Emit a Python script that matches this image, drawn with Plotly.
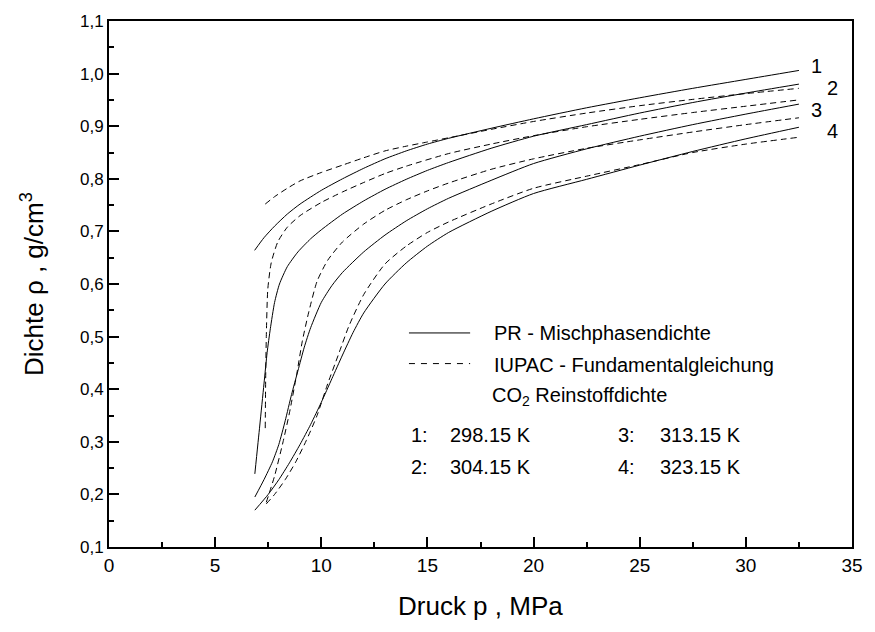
import plotly.graph_objects as go

# ---------------- data ----------------
# PR - Mischphasendichte (solid lines)
pr1_p = [6.86, 7.3, 7.8, 8.4, 9.0, 10.0, 11.0, 12.0, 13.0, 14.0, 15.0, 16.0, 18.0, 20.0, 22.5, 25.0, 27.5, 30.0, 32.5]
pr1_r = [0.664, 0.688, 0.710, 0.733, 0.752, 0.778, 0.800, 0.820, 0.838, 0.853, 0.866, 0.877, 0.896, 0.914, 0.935, 0.954, 0.972, 0.989, 1.006]

pr2_p = [6.87, 7.1, 7.3, 7.45, 7.6, 7.8, 8.03, 8.4, 8.9, 9.5, 10.0, 11.0, 12.0, 13.0, 14.0, 15.0, 16.0, 18.0, 20.0, 22.5, 25.0, 27.5, 30.0, 32.5]
pr2_r = [0.239, 0.330, 0.410, 0.470, 0.515, 0.565, 0.600, 0.633, 0.661, 0.686, 0.703, 0.733, 0.758, 0.780, 0.799, 0.816, 0.831, 0.858, 0.881, 0.903, 0.925, 0.945, 0.963, 0.980]

pr3_p = [6.87, 7.3, 7.7, 8.0, 8.3, 8.6, 8.9, 9.2, 9.5, 10.0, 10.5, 11.0, 12.0, 13.0, 14.0, 15.0, 16.0, 18.0, 20.0, 22.5, 25.0, 27.5, 30.0, 32.5]
pr3_r = [0.195, 0.228, 0.262, 0.295, 0.340, 0.390, 0.435, 0.480, 0.517, 0.565, 0.597, 0.622, 0.661, 0.693, 0.720, 0.743, 0.763, 0.797, 0.829, 0.857, 0.881, 0.903, 0.923, 0.942]

pr4_p = [6.87, 7.5, 8.0, 8.5, 9.0, 9.5, 10.0, 10.5, 11.0, 11.5, 12.0, 13.0, 14.0, 15.0, 16.0, 18.0, 20.0, 22.5, 25.0, 27.5, 30.0, 32.5]
pr4_r = [0.170, 0.200, 0.228, 0.260, 0.295, 0.333, 0.375, 0.420, 0.465, 0.508, 0.545, 0.600, 0.640, 0.672, 0.698, 0.738, 0.772, 0.799, 0.826, 0.852, 0.876, 0.898]

# IUPAC - Fundamentalgleichung (dashed lines)
iu1_p = [7.36, 7.8, 8.4, 9.0, 10.0, 11.0, 12.0, 13.0, 14.0, 15.0, 16.0, 18.0, 20.0, 22.5, 25.0, 27.5, 30.0, 32.5]
iu1_r = [0.752, 0.766, 0.782, 0.796, 0.812, 0.826, 0.840, 0.853, 0.862, 0.870, 0.878, 0.894, 0.909, 0.925, 0.939, 0.951, 0.962, 0.972]

iu2_p = [7.36, 7.38, 7.41, 7.48, 7.64, 7.95, 8.4, 9.0, 10.0, 11.0, 12.0, 13.0, 14.0, 16.0, 18.0, 20.0, 22.5, 25.0, 27.5, 30.0, 32.5]
iu2_r = [0.326, 0.420, 0.500, 0.590, 0.640, 0.680, 0.708, 0.730, 0.755, 0.775, 0.793, 0.810, 0.824, 0.848, 0.866, 0.882, 0.899, 0.913, 0.926, 0.938, 0.950]

iu3_p = [7.41, 7.8, 8.2, 8.5, 8.85, 9.1, 9.4, 9.8, 10.3, 11.0, 12.0, 13.0, 14.0, 15.0, 16.0, 18.0, 20.0, 22.5, 25.0, 27.5, 30.0, 32.5]
iu3_r = [0.185, 0.235, 0.300, 0.355, 0.430, 0.490, 0.545, 0.605, 0.645, 0.680, 0.714, 0.740, 0.760, 0.777, 0.792, 0.818, 0.838, 0.858, 0.874, 0.889, 0.903, 0.916]

iu4_p = [7.41, 7.8, 8.3, 8.8, 9.3, 9.8, 10.3, 10.8, 11.3, 12.0, 13.0, 14.0, 15.0, 16.0, 18.0, 20.0, 22.5, 25.0, 27.5, 30.0, 32.5]
iu4_r = [0.182, 0.200, 0.228, 0.262, 0.303, 0.350, 0.410, 0.465, 0.520, 0.580, 0.638, 0.672, 0.698, 0.718, 0.752, 0.782, 0.805, 0.827, 0.850, 0.866, 0.879]

curve_labels = ["1", "2", "3", "4"]
curve_label_x = [33.33, 34.07, 33.33, 34.07]
curve_label_y = [1.015, 0.972, 0.930, 0.890]
temp_numbers = ["1:", "2:", "3:", "4:"]
temperatures = ["298.15 K", "304.15 K", "313.15 K", "323.15 K"]

x_ticks = [0, 5, 10, 15, 20, 25, 30, 35]
y_ticks = [0.1, 0.2, 0.3, 0.4, 0.5, 0.6, 0.7, 0.8, 0.9, 1.0, 1.1]
y_ticktext = ["0,1", "0,2", "0,3", "0,4", "0,5", "0,6", "0,7", "0,8", "0,9", "1,0", "1,1"]

FONT = "Liberation Sans, Arial, sans-serif"

fig = go.Figure()

solid = [(pr1_p, pr1_r), (pr2_p, pr2_r), (pr3_p, pr3_r), (pr4_p, pr4_r)]
dashed = [(iu1_p, iu1_r), (iu2_p, iu2_r), (iu3_p, iu3_r), (iu4_p, iu4_r)]

for p, r in solid:
    fig.add_trace(go.Scatter(x=p, y=r, mode="lines",
                             line=dict(color="black", width=1, shape="spline", smoothing=0.6),
                             showlegend=False, hoverinfo="skip"))
for p, r in dashed:
    fig.add_trace(go.Scatter(x=p, y=r, mode="lines",
                             line=dict(color="black", width=1, dash="6px,4px",
                                       shape="spline", smoothing=0.6),
                             showlegend=False, hoverinfo="skip"))

annotations = []
for lab, x, y in zip(curve_labels, curve_label_x, curve_label_y):
    annotations.append(dict(x=x, y=y, xref="x", yref="y", text=lab, showarrow=False,
                            xanchor="center", yanchor="middle",
                            font=dict(family=FONT, size=20, color="black")))


def paper_x(px):
    return (px - 109) / (862 - 109)


def paper_y(py):
    return (547 - py) / (547 - 15)


legend_rows = [
    (497, 331, "PR - Mischphasendichte"),
    (497, 363, "IUPAC - Fundamentalgleichung"),
    (495, 395, "CO<sub>2</sub> Reinstoffdichte"),
]
for px, py, txt in legend_rows:
    annotations.append(dict(x=paper_x(px), y=paper_y(py), xref="paper", yref="paper",
                            text=txt, showarrow=False, xanchor="left", yanchor="middle",
                            font=dict(family=FONT, size=20, color="black")))

num_x = [413, 413, 623, 623]
val_x = [453, 453, 665, 665]
row_y = [434, 466, 434, 466]
for n, t, nx, vx, ry in zip(temp_numbers, temperatures, num_x, val_x, row_y):
    annotations.append(dict(x=paper_x(nx), y=paper_y(ry), xref="paper", yref="paper",
                            text=n, showarrow=False, xanchor="left", yanchor="middle",
                            font=dict(family=FONT, size=20, color="black")))
    annotations.append(dict(x=paper_x(vx), y=paper_y(ry), xref="paper", yref="paper",
                            text=t, showarrow=False, xanchor="left", yanchor="middle",
                            font=dict(family=FONT, size=20, color="black")))

# axis titles
annotations.append(dict(x=0.5, y=paper_y(607), xref="paper", yref="paper",
                        text="Druck p , MPa", showarrow=False, xanchor="center", yanchor="middle",
                        font=dict(family=FONT, size=26, color="black")))
annotations.append(dict(x=paper_x(31), y=0.5, xref="paper", yref="paper",
                        text="Dichte ρ , g/cm<sup>3</sup>", showarrow=False, textangle=-90,
                        xanchor="center", yanchor="middle",
                        font=dict(family=FONT, size=26, color="black")))

shapes = [
    dict(type="line", xref="paper", yref="paper", x0=paper_x(413), x1=paper_x(475),
         y0=paper_y(330.5), y1=paper_y(330.5), line=dict(color="black", width=1)),
    dict(type="line", xref="paper", yref="paper", x0=paper_x(413), x1=paper_x(475),
         y0=paper_y(361.5), y1=paper_y(361.5), line=dict(color="black", width=1, dash="6px,6px")),
]

axis_common = dict(showgrid=False, zeroline=False, showline=True, linecolor="black",
                   linewidth=2, mirror=True, ticks="inside", ticklen=10, tickwidth=1.5,
                   tickcolor="black")

fig.update_layout(
    width=875, height=632,
    margin=dict(l=109, r=13, t=15, b=85),
    paper_bgcolor="white", plot_bgcolor="white",
    xaxis=dict(range=[0, 35], tickvals=x_ticks,
               tickfont=dict(family=FONT, size=19, color="black"),
               minor=dict(ticks="inside", ticklen=5, tickwidth=1.5, tickcolor="black", dtick=2.5, tick0=0),
               **axis_common),
    yaxis=dict(range=[0.1, 1.1], tickvals=y_ticks, ticktext=y_ticktext,
               tickfont=dict(family=FONT, size=17, color="black"),
               minor=dict(ticks="inside", ticklen=5, tickwidth=1.5, tickcolor="black", dtick=0.05, tick0=0.1),
               **axis_common),
    annotations=annotations,
    shapes=shapes,
    showlegend=False,
)

fig.write_html("out.html")
